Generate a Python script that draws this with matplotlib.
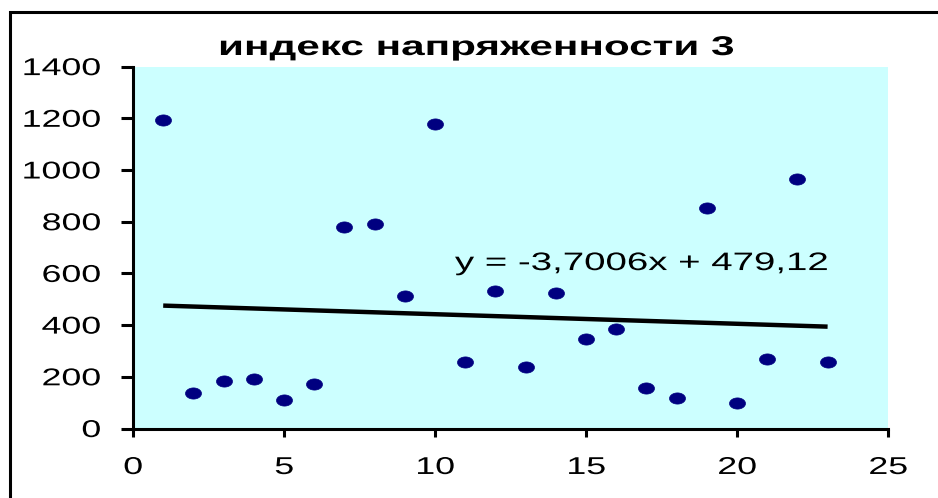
import numpy as np
import matplotlib
matplotlib.use("Agg")
import matplotlib.pyplot as plt
from matplotlib.path import Path
from matplotlib.patches import Rectangle
from matplotlib.patheffects import AbstractPathEffect
from matplotlib.transforms import Affine2D

# ---- data ----
x_values = [1, 2, 3, 4, 5, 6, 7, 8, 9, 10, 11, 12, 13, 14, 15, 16, 17, 18, 19, 20, 21, 22, 23]
y_values = [1193, 138, 183, 192, 110, 174, 780, 790, 513, 1177, 258, 531, 238, 523,
            348, 384, 155, 118, 854, 99, 267, 964, 258]
trend_slope = -3.7006
trend_intercept = 479.12
trend_label = "y = -3,7006x + 479,12"
title_text = "индекс напряженности 3"
x_ticks = [0, 5, 10, 15, 20, 25]
y_ticks = [0, 200, 400, 600, 800, 1000, 1200, 1400]

FONT = "Liberation Sans"
STRETCH = 1.47


class HStretch(AbstractPathEffect):
    """Widen rendered text horizontally (the reference uses stretched Arial)."""

    def __init__(self, sx, anchor="center"):
        super().__init__()
        self.sx = sx
        self.anchor = anchor

    def draw_path(self, renderer, gc, tpath, affine, rgbFace=None):
        verts = affine.transform(tpath.vertices)
        if len(verts) == 0:
            return
        xmin, xmax = verts[:, 0].min(), verts[:, 0].max()
        cx = {"left": xmin, "right": xmax, "center": 0.5 * (xmin + xmax)}[self.anchor]
        new_aff = affine + Affine2D().translate(-cx, 0).scale(self.sx, 1).translate(cx, 0)
        renderer.draw_path(gc, tpath, new_aff, rgbFace)


W, H = 938, 498
fig = plt.figure(figsize=(W / 100, H / 100), dpi=100)
fig.patch.set_facecolor("white")

# outer chart border (cropped on right/bottom like the reference)
fig.patches.append(Rectangle((10 / W, -0.1), 1.2, 1 - 12 / H + 0.1,
                             transform=fig.transFigure, fill=False,
                             edgecolor="black", linewidth=2.2, zorder=0))

left, right, top, bottom = 133, 888, 66.6, 428.5
ax = fig.add_axes([left / W, 1 - bottom / H, (right - left) / W, (bottom - top) / H])
ax.set_facecolor("#CCFFFF")
ax.set_xlim(0, 25)
ax.set_ylim(0, 1400)

# elliptical blob marker
t = np.linspace(0, 2 * np.pi, 40)
verts = np.column_stack([np.cos(t) * 1.0, np.sin(t) * 0.70])
blob = Path(verts, closed=True)

ax.plot(x_values, y_values, linestyle="none", marker=blob, markersize=11.5,
        markerfacecolor="#000080", markeredgecolor="#000080", markeredgewidth=0.5,
        zorder=3, clip_on=False)

xt = np.array([min(x_values), max(x_values)], dtype=float)
ax.plot(xt, trend_slope * xt + trend_intercept, color="black", linewidth=3.2,
        solid_capstyle="butt", zorder=2)

ax.text(10.66, 613, trend_label, ha="left", va="baseline", fontsize=18.2,
        family=FONT, color="black",
        path_effects=[HStretch(1.52, "left")])

for s in ["top", "right"]:
    ax.spines[s].set_visible(False)
for s in ["left", "bottom"]:
    ax.spines[s].set_linewidth(2.2)
    ax.spines[s].set_color("black")

ax.set_xticks(x_ticks)
ax.set_yticks(y_ticks)
ax.tick_params(axis="x", direction="out", length=6, width=2.2, labelsize=17.5, pad=14.5)
ax.tick_params(axis="y", direction="out", length=8.6, width=2.2, labelsize=17.5, pad=14.5)
for tk in ax.xaxis.get_major_ticks():
    tk.label1.set_family(FONT)
    tk.label1.set_path_effects([HStretch(STRETCH, "center")])
for tk in ax.yaxis.get_major_ticks():
    tk.label1.set_family(FONT)
    tk.label1.set_path_effects([HStretch(STRETCH, "right")])

fig.text(476 / W, 1 - 55 / H, title_text, ha="center", va="baseline",
         fontsize=19.5, fontweight="bold", family=FONT,
         path_effects=[HStretch(1.56, "center")])

fig.savefig("out.png", dpi=100)
